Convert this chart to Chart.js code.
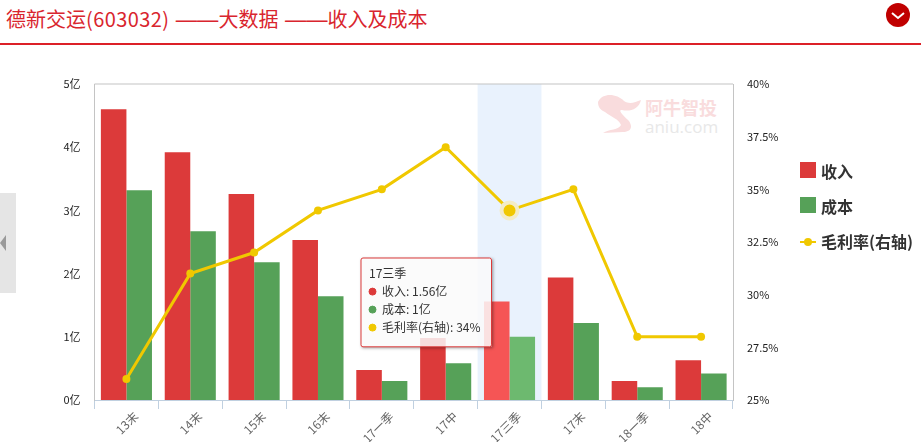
<!DOCTYPE html>
<html>
<head>
<meta charset="utf-8">
<script src="https://cdn.jsdelivr.net/npm/chart.js@4"></script>
<style>
  body { margin: 0; width: 921px; height: 442px; overflow: hidden; background: #fff; font-family: "Noto Sans CJK SC", sans-serif; position: relative; }
  #title { position: absolute; left: 6px; top: 4px; font-size: 20px; line-height: 30px; color: #d9252e; white-space: nowrap; }
  #title .num { letter-spacing: 0.4px; }
  #title .dash { font-family: "Liberation Sans", sans-serif; font-size: 21.3px; margin-left: 2px; }
  #rule { position: absolute; left: 0; top: 43px; width: 921px; height: 2px; background: #dc2028; }
  #toggle { position: absolute; left: 886px; top: 3px; }
  #handle { position: absolute; left: 0; top: 193px; width: 16px; height: 100px; background: #e5e5e5; }
  #handle i { position: absolute; left: 0; top: 42px; border: 8px solid transparent; border-left: 0; border-right: 6px solid #999; }
  #mark { position: absolute; left: 597px; top: 94px; }
  #mark .cn { position: absolute; left: 48px; top: 1px; font-size: 18px; line-height: 24px; font-weight: 700; color: #f9dcdd; white-space: nowrap; }
  #mark .en { position: absolute; left: 48px; top: 22px; font-size: 17px; line-height: 22px; color: #e8e8e8; font-family: "Open Sans", sans-serif; white-space: nowrap; }
  #chart { position: absolute; left: 0; top: 0; }
  #legend { position: absolute; left: 800px; top: 159px; font-size: 16px; font-weight: 700; color: #333; }
  #legend div { position: relative; height: 35px; line-height: 24px; padding-left: 21px; white-space: nowrap; }
  #legend .box { position: absolute; left: 0; top: 3px; width: 16px; height: 16px; }
  #legend .ln { position: absolute; left: 0; top: 12px; width: 16px; height: 2px; }
  #legend .dot { position: absolute; left: 4px; top: 9px; width: 8px; height: 8px; border-radius: 50%; }
</style>
</head>
<body>
<div id="title">德新交运<span class="num">(603032)</span> <span class="dash">——</span>大数据 <span class="dash">——</span>收入及成本</div>
<div id="rule"></div>
<svg id="toggle" width="24" height="24"><circle cx="12" cy="12" r="12" fill="#c00000"/><path d="M6 10l6 5 6-5" fill="none" stroke="#fff" stroke-width="2"/></svg>
<div id="handle"><i></i></div>
<div id="mark">
  <svg width="46" height="44"><path d="M1 8C6 -2 20 0 27 7C33 11 38 8 44 6C42 15 33 18 25 16C20 16 27 22 32 27C36 33 34 38 26 38L6 39C12 35 22 36 24 31C22 25 14 23 8 18C4 16 1 14 1 8Z" fill="#f9dcdd"/></svg>
  <span class="cn">阿牛智投</span><span class="en">aniu.com</span>
</div>
<canvas id="chart" width="921" height="442"></canvas>
<div id="legend"></div>
<script>
const categories = ['13末', '14末', '15末', '16末', '17一季', '17中', '17三季', '17末', '18一季', '18中'];
const revenue = [4.6, 3.92, 3.26, 2.53, 0.475, 0.98, 1.56, 1.94, 0.3, 0.63];
const cost = [3.32, 2.67, 2.18, 1.64, 0.3, 0.58, 1, 1.22, 0.2, 0.42];
const margin = [26, 31, 32, 34, 35, 37, 34, 35, 28, 28];
const revenueName = '收入';
const costName = '成本';
const marginName = '毛利率(右轴)';
const activeIndex = 6;

const RED = '#dc3a3a', GREEN = '#56a158', YELLOW = '#f0c800';
const tickFont = { family: '"Noto Sans CJK SC", sans-serif', size: 11 };

// highlighted column behind the bars and the top edge of the plot frame
const plotBand = {
  id: 'plotBand',
  beforeDatasetsDraw(chart) {
    const { ctx, chartArea, scales } = chart;
    const half = (scales.x.getPixelForValue(1) - scales.x.getPixelForValue(0)) / 2;
    const cx = scales.x.getPixelForValue(activeIndex);
    ctx.save();
    ctx.fillStyle = '#e9f2fd';
    ctx.fillRect(cx - half, chartArea.top, half * 2, chartArea.height);
    ctx.fillStyle = '#c4c4c4';
    ctx.fillRect(chartArea.left, chartArea.top - 0.5, chartArea.width, 1);
    ctx.restore();
  },
  // shadow only outside the box, the fill is see-through
  beforeTooltipDraw(chart) {
    const { ctx, tooltip } = chart;
    const { x, y, width, height } = tooltip;
    ctx.save();
    ctx.beginPath();
    ctx.rect(0, 0, chart.width, chart.height);
    ctx.rect(x, y, width, height);
    ctx.clip('evenodd');
    ctx.shadowColor = 'rgba(0,0,0,0.4)';
    ctx.shadowBlur = 3;
    ctx.shadowOffsetX = 1;
    ctx.shadowOffsetY = 1;
    ctx.fillStyle = '#fff';
    ctx.fillRect(x, y, width, height);
    ctx.restore();
  }
};

Chart.Tooltip.positioners.pinned = function () {
  return { x: 363, y: 258 };
};

const chart = new Chart(document.getElementById('chart'), {
  data: {
    labels: categories,
    datasets: [
      { type: 'line', label: marginName, data: margin, yAxisID: 'y1', order: 0,
        borderColor: YELLOW, backgroundColor: YELLOW, borderWidth: 3, tension: 0,
        pointRadius: 4, pointBackgroundColor: YELLOW, pointBorderWidth: 0,
        pointHoverRadius: 8, pointHoverBackgroundColor: YELLOW,
        pointHoverBorderColor: '#f3ecc6', pointHoverBorderWidth: 4 },
      { type: 'bar', label: revenueName, data: revenue, yAxisID: 'y', order: 1,
        backgroundColor: RED, hoverBackgroundColor: '#f55555',
        categoryPercentage: 0.8, barPercentage: 1 },
      { type: 'bar', label: costName, data: cost, yAxisID: 'y', order: 1,
        backgroundColor: GREEN, hoverBackgroundColor: '#6db96f',
        categoryPercentage: 0.8, barPercentage: 1 }
    ]
  },
  options: {
    responsive: false,
    animation: false,
    events: [],
    layout: { padding: { top: 84, bottom: 0 } },
    plugins: {
      legend: { display: false },
      tooltip: {
        mode: 'index',
        position: 'pinned',
        xAlign: 'left',
        yAlign: 'top',
        caretSize: 0,
        caretPadding: 0,
        cornerRadius: 2,
        backgroundColor: 'rgba(250,250,250,0.85)',
        borderColor: '#dc3a3a',
        borderWidth: 1,
        titleColor: '#333',
        bodyColor: '#333',
        titleFont: { family: tickFont.family, size: 12, weight: 'normal' },
        bodyFont: { family: tickFont.family, size: 12 },
        titleMarginBottom: 4,
        bodySpacing: 3.6,
        padding: { left: 8, right: 11, top: 8, bottom: 12 },
        usePointStyle: true,
        boxWidth: 7,
        boxHeight: 7,
        boxPadding: 4,
        itemSort: (a, b) => (a.dataset.type === 'line') - (b.dataset.type === 'line'),
        callbacks: {
          label: (c) => c.dataset.type === 'line'
            ? c.dataset.label + ': ' + c.raw + '%'
            : c.dataset.label + ': ' + c.raw + '亿',
          labelPointStyle: () => ({ pointStyle: 'circle', rotation: 0 }),
          labelColor: (c) => ({ borderColor: c.dataset.backgroundColor, backgroundColor: c.dataset.backgroundColor })
        }
      }
    },
    scales: {
      x: {
        afterFit: (s) => { s.height = 42; },
        grid: { drawOnChartArea: false, tickLength: 9, color: '#c0d0e0' },
        border: { color: '#c0d0e0' },
        ticks: { minRotation: 45, maxRotation: 45, labelOffset: 9.5, padding: 0, color: '#666', font: { family: tickFont.family, size: 12 } }
      },
      y: {
        position: 'left',
        min: 0, max: 5,
        afterFit: (s) => { s.width = 94.5; },
        grid: { display: false },
        border: { color: '#c4c4c4' },
        ticks: { stepSize: 1, padding: 6, color: '#222', font: tickFont, callback: (v) => v + '亿' }
      },
      y1: {
        position: 'right',
        min: 25, max: 40,
        afterFit: (s) => { s.width = 188; },
        grid: { display: false },
        border: { color: '#c4c4c4' },
        ticks: { stepSize: 2.5, padding: 6, color: '#222', font: tickFont, callback: (v) => v + '%' }
      }
    }
  },
  plugins: [plotBand]
});

const active = chart.data.datasets.map((d, i) => ({ datasetIndex: i, index: activeIndex }));
chart.setActiveElements(active);
chart.tooltip.setActiveElements(active, { x: 0, y: 0 });
chart.update();

// legend listed in the order the reference shows
const legendEl = document.getElementById('legend');
[chart.data.datasets[1], chart.data.datasets[2], chart.data.datasets[0]].forEach((d) => {
  const row = document.createElement('div');
  const c = d.backgroundColor;
  row.innerHTML = (d.type === 'bar'
    ? '<span class="box" style="background:' + c + '"></span>'
    : '<span class="ln" style="background:' + c + '"></span><span class="dot" style="background:' + c + '"></span>') + d.label;
  legendEl.appendChild(row);
});
</script>
</body>
</html>
